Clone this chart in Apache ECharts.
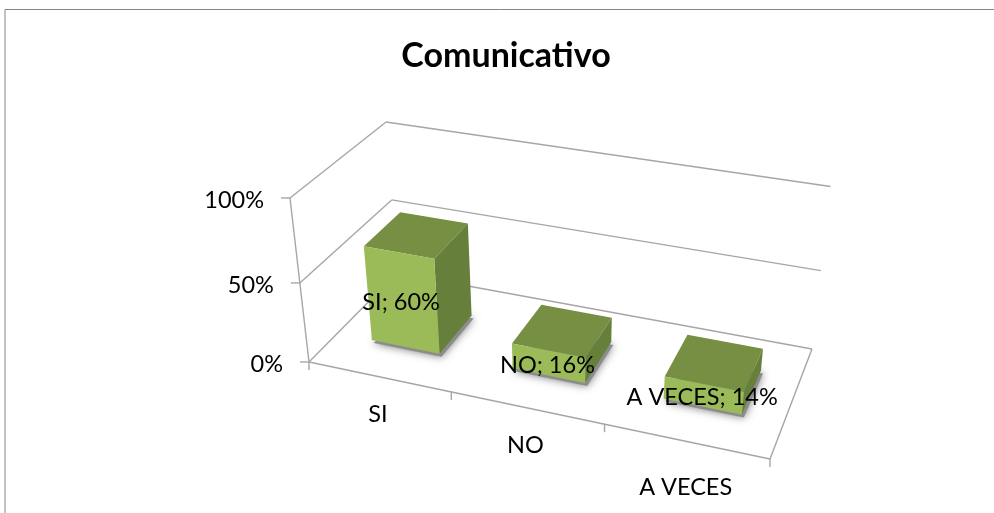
<!DOCTYPE html>
<html>
<head>
<meta charset="utf-8">
<title>Comunicativo</title>
<script src="https://cdn.jsdelivr.net/npm/echarts@6/dist/echarts.min.js"></script>
<style>
html, body { margin: 0; padding: 0; background: #fff; }
#chart { width: 994px; height: 513px; }
</style>
</head>
<body>
<div id="chart"></div>
<script>
// data
let categories = ['SI', 'NO', 'A VECES'];
let percents = [60, 16, 14];
let valueTicks = [0, 50, 100];

let font = 'Lato, "Open Sans", sans-serif';
let lineColor = '#a6a6a6';

// perspective of the excel 3d box: (u along categories, w depth, v height) -> screen
let camX = [378.7, 136.3, -39.3, 309];
let camY = [47.93, -55.8, -177.9, 362];
let camW = [-0.1069, 0.1217, -0.07, 1];
let project = function(u, w, v) {
    let d = camW[0] * u + camW[1] * w + camW[2] * v + camW[3];
    return [
        (camX[0] * u + camX[1] * w + camX[2] * v + camX[3]) / d,
        (camY[0] * u + camY[1] * w + camY[2] * v + camY[3]) / d
    ];
};

// axis pixel -> 0..1 inside the grid
let toU = (params, px) => (px - params.coordSys.x) / params.coordSys.width;
let toV = (params, py) => (params.coordSys.y + params.coordSys.height - py) / params.coordSys.height;

let line = function(a, b, color, width) {
    return {
        type: 'line',
        shape: { x1: a[0], y1: a[1], x2: b[0], y2: b[1] },
        style: { stroke: color || lineColor, lineWidth: width || 1.4 }
    };
};
let text = function(str, x, y, align) {
    return {
        type: 'text',
        z2: 50,
        style: {
            text: str,
            x: x,
            y: y,
            fill: '#000',
            font: '23.5px ' + font,
            textAlign: align || 'center',
            textVerticalAlign: 'middle'
        }
    };
};

// walls, floor, ticks and axis labels
function renderFrame(params, api) {
    let children = [];
    children.push(line(project(0, 0, 0), project(1, 0, 0)));
    children.push(line(project(1, 0, 0), project(1, 1, 0)));
    children.push(line(project(0, 0, 0), project(0, 0, 1)));
    valueTicks.forEach(t => {
        let v = toV(params, api.coord([0, t])[1]);
        let p = project(0, 0, v);
        children.push(line(project(0, 0, v), project(0, 1, v)));
        children.push(line(project(0, 1, v), project(1, 1, v)));
        children.push(line([p[0] - 9, p[1]], p));
        children.push(text(t + '%', p[0] - 26, p[1] + 2, 'right'));
    });
    let band = api.size([1, 0])[0];
    let labelShift = [[-1, 38], [-1, 38], [0, 46]];
    categories.forEach((c, i) => {
        let cx = api.coord([i, 0])[0];
        let start = project(toU(params, cx - band / 2), 0, 0);
        let end = project(toU(params, cx + band / 2), 0, 0);
        if (i == 0) {
            children.push(line(start, [start[0], start[1] + 8]));
        }
        children.push(line(end, [end[0], end[1] + 8]));
        let mid = project(toU(params, cx), 0, 0);
        children.push(text(c, mid[0] + labelShift[i][0], mid[1] + labelShift[i][1]));
    });
    return { type: 'group', children: children };
}

// one box per category
function renderBar(params, api) {
    let i = api.value(0);
    let top = api.coord([i, api.value(1)]);
    let halfBar = api.size([1, 0])[0] * 0.245;
    let u0 = toU(params, top[0] - halfBar);
    let u1 = toU(params, top[0] + halfBar);
    let v = toV(params, top[1]);
    let w0 = 0.3;
    let w1 = 0.71;
    let poly = function(points, fill, extra) {
        return {
            type: 'polygon',
            shape: { points: points },
            style: Object.assign({ fill: fill }, extra || {})
        };
    };
    let foot = [project(u0, w0, 0), project(u1, w0, 0), project(u1, w1, 0), project(u0, w1, 0)]
        .map(p => [p[0] + 2, p[1] + 3]);
    let mid = project(toU(params, top[0]), w0, v / 2);
    return {
        type: 'group',
        children: [
            poly(foot, '#8c8c8c', { shadowBlur: 8, shadowColor: 'rgba(90,90,90,0.8)' }),
            poly([project(u0, w0, v), project(u1, w0, v), project(u1, w1, v), project(u0, w1, v)], '#778f43'),
            poly([project(u1, w0, 0), project(u1, w1, 0), project(u1, w1, v), project(u1, w0, v)], '#667f3a'),
            poly([project(u0, w0, 0), project(u1, w0, 0), project(u1, w0, v), project(u0, w0, v)], '#9bbb59'),
            text(categories[i] + '; ' + api.value(1) + '%', mid[0] - 1, mid[1] + 2)
        ]
    };
}

var chart = echarts.init(document.getElementById('chart'));
chart.setOption({
    animation: false,
    backgroundColor: '#fff',
    title: {
        text: 'Comunicativo',
        left: 506,
        top: 39,
        padding: 0,
        textAlign: 'center',
        textStyle: { fontFamily: font, fontSize: 34, fontWeight: 'bold', color: '#000' }
    },
    graphic: [
        { type: 'line', shape: { x1: 5, y1: 9.5, x2: 994, y2: 9.5 }, style: { stroke: '#868686', lineWidth: 1 } },
        { type: 'line', shape: { x1: 5, y1: 9.5, x2: 5, y2: 513 }, style: { stroke: '#868686', lineWidth: 1 } }
    ],
    grid: { left: 309, top: 198, width: 461, height: 164 },
    xAxis: { type: 'category', data: categories, show: false },
    yAxis: { type: 'value', min: 0, max: 100, interval: 50, show: false },
    series: [{
        type: 'custom',
        renderItem: renderFrame,
        data: [[0, 0]],
        z: 1,
        silent: true
    }, {
        type: 'custom',
        renderItem: renderBar,
        data: percents.map((p, i) => [i, p]),
        encode: { x: 0, y: 1 },
        z: 2,
        silent: true
    }]
});
</script>
</body>
</html>
